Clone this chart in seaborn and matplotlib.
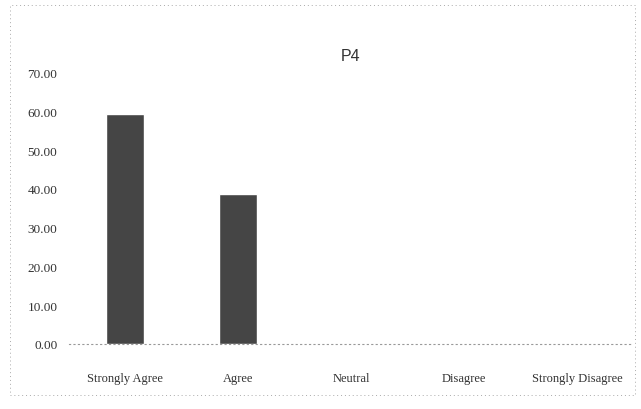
import pandas as pd
import matplotlib.pyplot as plt
import seaborn as sns
from matplotlib.patches import Rectangle

# Chart data
categories = ['Strongly Agree', 'Agree', 'Neutral', 'Disagree', 'Strongly Disagree']
values = [59.4, 38.8, 0.0, 0.0, 0.0]
y_ticks = [0, 10, 20, 30, 40, 50, 60, 70]

df = pd.DataFrame({'Response': categories, 'Percent': values})

sns.set_style('white')
plt.rcParams['font.family'] = ['Liberation Serif', 'DejaVu Serif']

fig = plt.figure(figsize=(6.41, 4.10), dpi=100)
ax = fig.add_axes([0.107, 0.159, 0.881, 0.661])

sns.barplot(data=df, x='Response', y='Percent', color='#454545', width=0.33,
            saturation=1, ax=ax)

ax.set_ylim(0, 70)
ax.set_yticks(y_ticks)
ax.set_yticklabels([f'{t:.2f}' for t in y_ticks], fontsize=9.5, color='#333333')
ax.tick_params(axis='x', labelsize=9, labelcolor='#333333', length=0, pad=20)
ax.tick_params(axis='y', length=0, pad=8)
ax.set_xlabel('')
ax.set_ylabel('')

# dotted baseline only, no other spines
for side in ['top', 'right', 'left']:
    ax.spines[side].set_visible(False)
ax.spines['bottom'].set_linestyle((0, (1, 3)))
ax.spines['bottom'].set_color('#999999')
ax.spines['bottom'].set_linewidth(0.8)

ax.set_title('P4', fontsize=11.5, family=['Liberation Sans', 'DejaVu Sans'],
             color='#333333', pad=9)

# dotted outer frame of the chart area
fig.patches.append(Rectangle((0.016, 0.035), 0.975, 0.95, transform=fig.transFigure,
                             fill=False, edgecolor='#aaaaaa', linewidth=0.7,
                             linestyle=(0, (1, 3))))

fig.savefig('out.png', dpi=100)
